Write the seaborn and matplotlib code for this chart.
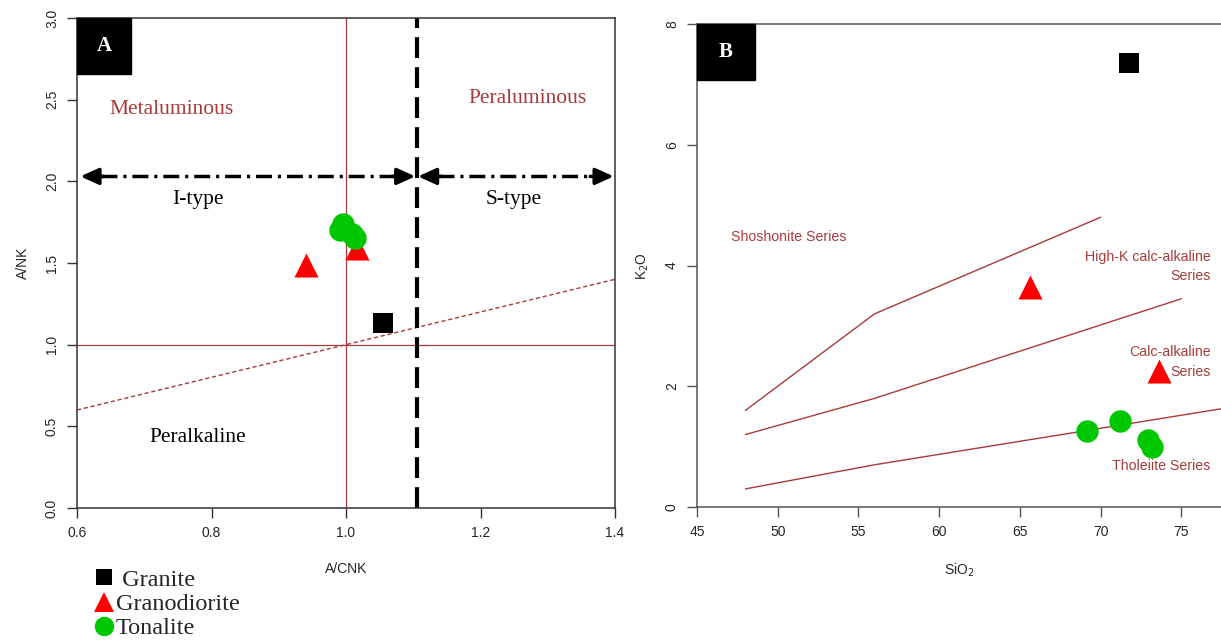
import numpy as np
import pandas as pd
import matplotlib
matplotlib.use("Agg")
import matplotlib.pyplot as plt
import seaborn as sns
from matplotlib.lines import Line2D
from matplotlib.patches import Rectangle

# Sample data
rock_order = ["Granite", "Granodiorite", "Tonalite"]
rock_colors = {"Granite": "black", "Granodiorite": "red", "Tonalite": "#00c800"}
rock_markers = {"Granite": "s", "Granodiorite": "^", "Tonalite": "o"}

rock = ["Granite", "Granodiorite", "Granodiorite", "Tonalite", "Tonalite", "Tonalite", "Tonalite"]

# Panel A: A/CNK vs A/NK
a_cnk = [1.055, 0.940, 1.016, 0.996, 0.991, 1.009, 1.013]
a_nk = [1.13, 1.49, 1.59, 1.74, 1.70, 1.68, 1.65]

# Panel B: SiO2 vs K2O
sio2 = [71.75, 65.6, 73.6, 69.15, 71.2, 72.9, 73.2]
k2o = [7.35, 3.64, 2.25, 1.26, 1.42, 1.11, 0.99]

# Panel B series boundaries
shos_x = [48, 56, 70]
shos_y = [1.6, 3.2, 4.8]
hik_x = [48, 56, 75]
hik_y = [1.2, 1.8, 3.45]
thol_x = [48, 56, 78]
thol_y = [0.3, 0.7, 1.65]

df = pd.DataFrame({"rock": rock, "A/CNK": a_cnk, "A/NK": a_nk, "SiO2": sio2, "K2O": k2o})

sns.set_style("ticks")
plt.rcParams["font.family"] = ["Liberation Sans", "DejaVu Sans"]

BROWN = "#a83a3a"
SERIF = ["Liberation Serif", "DejaVu Serif"]
marker_sizes = {"Granite": 210, "Granodiorite": 300, "Tonalite": 260}

fig = plt.figure(figsize=(12.21, 6.44), dpi=100)
ax_a = fig.add_axes([0.0631, 0.2112, 0.4406, 0.7609])
ax_b = fig.add_axes([0.5708, 0.2127, 0.4292, 0.7500])


def style_axes(ax, spine_color):
    for s in ax.spines.values():
        s.set_color(spine_color)
        s.set_linewidth(1.1)
    ax.tick_params(axis="both", direction="out", length=7, width=1, color=spine_color,
                   labelsize=10, pad=6)
    ax.tick_params(axis="y", labelrotation=90)
    for lab in ax.get_yticklabels():
        lab.set_va("center")


def label_box(ax, letter, w, h):
    ax.add_patch(Rectangle((0, 1 - h), w, h, transform=ax.transAxes, color="black",
                           zorder=5, clip_on=False))
    ax.text(w / 2, 1 - h / 2, letter, transform=ax.transAxes, color="white",
            fontsize=15, fontweight="bold", family=SERIF, ha="center", va="center", zorder=6)


# ---- Panel A ----
ax = ax_a
ax.axvline(1.0, color=BROWN, lw=0.9)
ax.axhline(1.0, color=BROWN, lw=0.9)
ax.plot([0.6, 1.4], [0.6, 1.4], color=BROWN, lw=1, linestyle=(0, (3, 2)))
ax.axvline(1.105, color="black", lw=3, linestyle=(0, (5, 2.2)))

arrow_y = 2.03
dashdot = (0, (4.6, 1.7, 0.9, 1.7))
for x0, x1 in [(0.605, 1.103), (1.107, 1.398)]:
    ax.plot([x0 + 0.03, x1 - 0.03], [arrow_y, arrow_y], color="black", lw=2.5, linestyle=dashdot)
    for tip, tail in [(x0, x0 + 0.035), (x1, x1 - 0.035)]:
        ax.annotate("", xy=(tip, arrow_y), xytext=(tail, arrow_y),
                    arrowprops=dict(arrowstyle="-|>,head_length=1.1,head_width=0.5",
                                    color="black", lw=2.5, shrinkA=0, shrinkB=0))

ax.text(0.74, 2.44, "Metaluminous", color=BROWN, fontsize=15.5, family=SERIF, ha="center", va="center")
ax.text(1.27, 2.51, "Peraluminous", color=BROWN, fontsize=15.5, family=SERIF, ha="center", va="center")
ax.text(0.78, 1.89, "I-type", color="black", fontsize=15.5, family=SERIF, ha="center", va="center")
ax.text(1.25, 1.89, "S-type", color="black", fontsize=15.5, family=SERIF, ha="center", va="center")
ax.text(0.78, 0.43, "Peralkaline", color="black", fontsize=15.5, family=SERIF, ha="center", va="center")

for r in rock_order:
    sub = df[df["rock"] == r]
    sns.scatterplot(data=sub, x="A/CNK", y="A/NK", ax=ax, color=rock_colors[r],
                    marker=rock_markers[r], s=marker_sizes[r], linewidth=0, legend=False, zorder=4)

ax.set_xlim(0.6, 1.4)
ax.set_ylim(0, 3)
ax.set_xticks([0.6, 0.8, 1.0, 1.2, 1.4])
ax.set_yticks([0.0, 0.5, 1.0, 1.5, 2.0, 2.5, 3.0])
ax.set_xticklabels(["0.6", "0.8", "1.0", "1.2", "1.4"])
ax.set_yticklabels(["0.0", "0.5", "1.0", "1.5", "2.0", "2.5", "3.0"])
ax.set_xlabel("A/CNK", fontsize=10, labelpad=16)
ax.set_ylabel("A/NK", fontsize=10, labelpad=11)
style_axes(ax, "#333333")
label_box(ax, "A", 0.1, 0.114)

# ---- Panel B ----
ax = ax_b
for bx, by in [(shos_x, shos_y), (hik_x, hik_y), (thol_x, thol_y)]:
    sns.lineplot(x=bx, y=by, ax=ax, color=BROWN, lw=1, estimator=None, sort=False)

ax.text(47.1, 4.47, "Shoshonite Series", color=BROWN, fontsize=10.2, ha="left", va="center")
ax.text(76.8, 3.98, "High-K calc-alkaline\nSeries", color=BROWN, fontsize=10.2, ha="right",
        va="center", multialignment="right", linespacing=1.5)
ax.text(76.8, 2.4, "Calc-alkaline\nSeries", color=BROWN, fontsize=10.2, ha="right",
        va="center", multialignment="right", linespacing=1.5)
ax.text(76.8, 0.68, "Tholeiite Series", color=BROWN, fontsize=10.2, ha="right", va="center")

for r in rock_order:
    sub = df[df["rock"] == r]
    sns.scatterplot(data=sub, x="SiO2", y="K2O", ax=ax, color=rock_colors[r],
                    marker=rock_markers[r], s=marker_sizes[r], linewidth=0, legend=False, zorder=4)

ax.set_xlim(45, 77.45)
ax.set_ylim(0, 8)
ax.set_xticks([45, 50, 55, 60, 65, 70, 75])
ax.set_yticks([0, 2, 4, 6, 8])
ax.set_xlabel("SiO$_2$", fontsize=10, labelpad=16)
ax.set_ylabel("K$_2$O", fontsize=10, labelpad=10)
style_axes(ax, "#555555")
ax.spines["right"].set_visible(False)
label_box(ax, "B", 0.111, 0.116)

# Legend below panel A
handles = [Line2D([], [], linestyle="none", marker=rock_markers[r], color=rock_colors[r],
                  markersize=14 if r != "Granite" else 11, markeredgewidth=0)
           for r in rock_order]
labels = [" Granite", "Granodiorite", "Tonalite"]
fig.legend(handles, labels, loc="upper left", bbox_to_anchor=(0.066, 0.136), frameon=False,
           prop={"family": SERIF, "size": 17.5}, borderpad=0, labelspacing=0.1,
           handlelength=0.9, handletextpad=0.05)

fig.savefig("out.png", dpi=100)
